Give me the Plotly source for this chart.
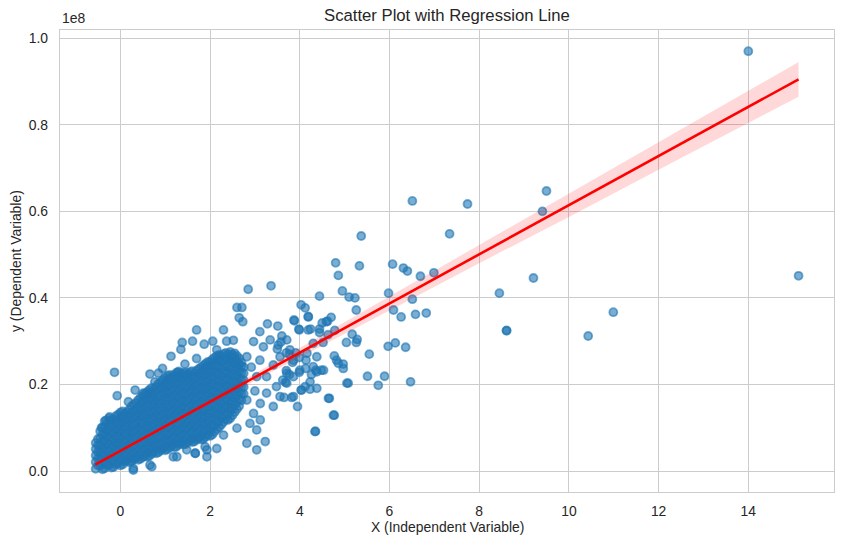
import plotly.graph_objects as go

# ---------------- data (y values in units of 1e8) ----------------
# dense core of the cloud, read column by column: (x, [y values])
core_columns = [
    (-0.55, [0.005, 0.021, 0.036, 0.051, 0.065]),
    (-0.45, [0.012, 0.028, 0.044, 0.060, 0.076, 0.092]),
    (-0.35, [0.006, 0.022, 0.038, 0.054, 0.070, 0.086, 0.101, 0.115]),
    (-0.25, [0.014, 0.030, 0.046, 0.062, 0.078, 0.094, 0.109, 0.122]),
    (-0.15, [0.009, 0.025, 0.041, 0.057, 0.073, 0.089, 0.105, 0.120]),
    (-0.05, [0.018, 0.034, 0.050, 0.066, 0.082, 0.098, 0.114, 0.130]),
    (0.05, [0.015, 0.031, 0.047, 0.063, 0.079, 0.095, 0.111, 0.126, 0.138]),
    (0.15, [0.024, 0.040, 0.056, 0.072, 0.088, 0.104, 0.120, 0.136]),
    (0.25, [0.022, 0.038, 0.054, 0.070, 0.086, 0.102, 0.118, 0.134, 0.150]),
    (0.35, [0.030, 0.046, 0.062, 0.078, 0.094, 0.110, 0.126, 0.142, 0.158]),
    (0.45, [0.028, 0.044, 0.060, 0.076, 0.092, 0.108, 0.124, 0.140, 0.156, 0.170]),
    (0.55, [0.036, 0.052, 0.068, 0.084, 0.100, 0.116, 0.132, 0.148, 0.164, 0.179]),
    (0.65, [0.035, 0.051, 0.067, 0.083, 0.099, 0.115, 0.131, 0.147, 0.163, 0.178, 0.188]),
    (0.75, [0.044, 0.060, 0.076, 0.092, 0.108, 0.124, 0.140, 0.156, 0.172, 0.188]),
    (0.85, [0.043, 0.059, 0.075, 0.091, 0.107, 0.123, 0.139, 0.155, 0.171, 0.187, 0.202]),
    (0.95, [0.052, 0.068, 0.084, 0.100, 0.116, 0.132, 0.148, 0.164, 0.180, 0.196, 0.210]),
    (1.05, [0.050, 0.066, 0.082, 0.098, 0.114, 0.130, 0.146, 0.162, 0.178, 0.194, 0.208, 0.220]),
    (1.15, [0.059, 0.075, 0.091, 0.107, 0.123, 0.139, 0.155, 0.171, 0.187, 0.203, 0.218]),
    (1.25, [0.056, 0.072, 0.088, 0.104, 0.120, 0.136, 0.152, 0.168, 0.184, 0.200, 0.214, 0.227]),
    (1.35, [0.065, 0.081, 0.097, 0.113, 0.129, 0.145, 0.161, 0.177, 0.193, 0.209, 0.224]),
    (1.45, [0.062, 0.078, 0.094, 0.110, 0.126, 0.142, 0.158, 0.174, 0.190, 0.206, 0.220, 0.228]),
    (1.55, [0.071, 0.087, 0.103, 0.119, 0.135, 0.151, 0.167, 0.183, 0.199, 0.215, 0.228]),
    (1.65, [0.068, 0.084, 0.100, 0.116, 0.132, 0.148, 0.164, 0.180, 0.196, 0.212, 0.226]),
    (1.75, [0.077, 0.093, 0.109, 0.125, 0.141, 0.157, 0.173, 0.189, 0.205, 0.221, 0.236]),
    (1.85, [0.074, 0.090, 0.106, 0.122, 0.138, 0.154, 0.170, 0.186, 0.202, 0.218, 0.232, 0.244]),
    (1.95, [0.084, 0.100, 0.116, 0.132, 0.148, 0.164, 0.180, 0.196, 0.212, 0.228, 0.242, 0.252]),
    (2.05, [0.084, 0.100, 0.116, 0.132, 0.148, 0.164, 0.180, 0.196, 0.212, 0.228, 0.244, 0.258]),
    (2.15, [0.097, 0.113, 0.129, 0.145, 0.161, 0.177, 0.193, 0.209, 0.225, 0.241, 0.256, 0.266]),
    (2.25, [0.107, 0.123, 0.139, 0.155, 0.171, 0.187, 0.203, 0.219, 0.235, 0.251, 0.265]),
    (2.35, [0.120, 0.136, 0.152, 0.168, 0.184, 0.200, 0.216, 0.232, 0.248, 0.262, 0.273]),
    (2.45, [0.122, 0.138, 0.154, 0.170, 0.186, 0.202, 0.218, 0.234, 0.250, 0.264, 0.275]),
    (2.55, [0.136, 0.152, 0.168, 0.184, 0.200, 0.216, 0.232, 0.248, 0.262, 0.272]),
    (2.65, [0.150, 0.166, 0.182, 0.198, 0.214, 0.230, 0.246, 0.260]),
    (2.75, [0.178, 0.194, 0.210, 0.226, 0.240]),
    # second pass of readings between the columns above
    (-0.50, [0.013, 0.029, 0.044, 0.059, 0.074]),
    (-0.40, [0.004, 0.020, 0.036, 0.052, 0.068, 0.084, 0.100]),
    (-0.30, [0.014, 0.030, 0.046, 0.062, 0.078, 0.094, 0.110]),
    (-0.20, [0.008, 0.022, 0.038, 0.054, 0.070, 0.086, 0.102, 0.117]),
    (-0.10, [0.016, 0.032, 0.048, 0.064, 0.080, 0.096, 0.112, 0.127]),
    (0.00, [0.013, 0.026, 0.042, 0.058, 0.074, 0.090, 0.106, 0.122, 0.135]),
    (0.10, [0.022, 0.038, 0.054, 0.070, 0.086, 0.102, 0.118, 0.133]),
    (0.20, [0.020, 0.030, 0.046, 0.062, 0.078, 0.094, 0.110, 0.126, 0.142]),
    (0.30, [0.027, 0.043, 0.059, 0.075, 0.091, 0.107, 0.123, 0.139, 0.154]),
    (0.40, [0.026, 0.036, 0.052, 0.068, 0.084, 0.100, 0.116, 0.132, 0.148, 0.164]),
    (0.50, [0.032, 0.048, 0.064, 0.080, 0.096, 0.112, 0.128, 0.144, 0.160, 0.174]),
    (0.60, [0.033, 0.043, 0.059, 0.075, 0.091, 0.107, 0.123, 0.139, 0.155, 0.171, 0.183]),
    (0.70, [0.040, 0.056, 0.072, 0.088, 0.104, 0.120, 0.136, 0.152, 0.168, 0.182, 0.192]),
    (0.80, [0.041, 0.051, 0.067, 0.083, 0.099, 0.115, 0.131, 0.147, 0.163, 0.179, 0.195]),
    (0.90, [0.048, 0.064, 0.080, 0.096, 0.112, 0.128, 0.144, 0.160, 0.176, 0.192, 0.206]),
    (1.00, [0.048, 0.058, 0.074, 0.090, 0.106, 0.122, 0.138, 0.154, 0.170, 0.186, 0.202, 0.215]),
    (1.10, [0.055, 0.071, 0.087, 0.103, 0.119, 0.135, 0.151, 0.167, 0.183, 0.199, 0.213, 0.222]),
    (1.20, [0.055, 0.064, 0.080, 0.096, 0.112, 0.128, 0.144, 0.160, 0.176, 0.192, 0.208, 0.222]),
    (1.30, [0.061, 0.077, 0.093, 0.109, 0.125, 0.141, 0.157, 0.173, 0.189, 0.205, 0.219, 0.228]),
    (1.40, [0.061, 0.070, 0.086, 0.102, 0.118, 0.134, 0.150, 0.166, 0.182, 0.198, 0.214, 0.226]),
    (1.50, [0.067, 0.083, 0.099, 0.115, 0.131, 0.147, 0.163, 0.179, 0.195, 0.211, 0.224]),
    (1.60, [0.067, 0.076, 0.092, 0.108, 0.124, 0.140, 0.156, 0.172, 0.188, 0.204, 0.220, 0.231]),
    (1.70, [0.073, 0.089, 0.105, 0.121, 0.137, 0.153, 0.169, 0.185, 0.201, 0.217, 0.232]),
    (1.80, [0.073, 0.082, 0.098, 0.114, 0.130, 0.146, 0.162, 0.178, 0.194, 0.210, 0.226, 0.240]),
    (1.90, [0.079, 0.095, 0.111, 0.127, 0.143, 0.159, 0.175, 0.191, 0.207, 0.223, 0.238, 0.248]),
    (2.00, [0.081, 0.092, 0.108, 0.124, 0.140, 0.156, 0.172, 0.188, 0.204, 0.220, 0.236, 0.252]),
    (2.10, [0.091, 0.105, 0.121, 0.137, 0.153, 0.169, 0.185, 0.201, 0.217, 0.233, 0.249, 0.262]),
    (2.20, [0.101, 0.115, 0.131, 0.147, 0.163, 0.179, 0.195, 0.211, 0.227, 0.243, 0.258, 0.268]),
    (2.30, [0.113, 0.129, 0.145, 0.161, 0.177, 0.193, 0.209, 0.225, 0.241, 0.257, 0.270]),
    (2.40, [0.118, 0.130, 0.146, 0.162, 0.178, 0.194, 0.210, 0.226, 0.242, 0.258, 0.270]),
    (2.50, [0.129, 0.145, 0.161, 0.177, 0.193, 0.209, 0.225, 0.241, 0.257, 0.270]),
    (2.60, [0.143, 0.159, 0.175, 0.191, 0.207, 0.223, 0.239, 0.255, 0.266]),
    (2.70, [0.163, 0.179, 0.195, 0.211, 0.227, 0.243, 0.251]),
]

# scattered points around the core
halo_pts = [
    (-0.13, 0.228), (-0.07, 0.174), (0.18, 0.160), (0.33, 0.187), (0.51, 0.180),
    (0.66, 0.224), (0.85, 0.226), (0.77, 0.206), (0.94, 0.237), (1.13, 0.265),
    (1.35, 0.281), (1.61, 0.300), (2.06, 0.300), (-0.32, 0.117), (-0.24, 0.125),
    (-0.42, 0.100), (1.89, 0.056), (1.67, 0.041), (1.93, 0.033), (0.66, 0.014),
    (0.29, 0.006), (1.26, 0.033), (1.48, 0.049), (1.38, 0.297), (1.70, 0.326),
    (1.87, 0.293), (1.44, 0.247), (1.30, 0.230), (1.70, 0.260), (2.15, 0.280),
    (2.30, 0.326), (2.37, 0.300), (2.52, 0.302), (2.60, 0.378), (2.71, 0.378),
    (2.65, 0.354), (2.73, 0.345), (2.85, 0.420), (3.36, 0.428), (2.97, 0.299),
    (3.11, 0.322), (3.28, 0.340), (3.51, 0.335), (3.34, 0.303), (3.19, 0.287),
    (3.52, 0.291), (3.71, 0.303), (3.78, 0.280), (3.88, 0.347), (3.99, 0.326),
    (4.19, 0.326), (4.19, 0.357), (4.44, 0.328), (4.59, 0.345), (4.70, 0.355),
    (3.11, 0.256), (3.41, 0.245), (3.26, 0.218), (3.71, 0.226), (4.00, 0.233),
    (4.30, 0.241), (4.53, 0.233), (4.97, 0.237), (4.82, 0.256), (4.38, 0.264),
    (4.16, 0.272), (3.86, 0.256), (3.56, 0.264), (2.82, 0.264), (3.04, 0.218),
    (3.26, 0.180), (3.56, 0.172), (3.86, 0.172), (3.41, 0.149), (3.95, 0.149),
    (4.34, 0.091), (4.75, 0.129), (5.05, 0.203), (4.64, 0.168), (4.04, 0.187),
    (4.23, 0.206), (4.38, 0.191), (2.82, 0.164), (2.97, 0.133), (3.12, 0.118),
    (2.89, 0.110), (3.04, 0.095), (2.82, 0.064), (3.23, 0.068), (3.04, 0.049),
    (2.60, 0.099), (2.30, 0.083), (2.15, 0.052), (1.93, 0.049), (1.67, 0.041),
    (1.18, 0.033), (0.70, 0.010), (0.29, 0.002), (3.48, 0.195), (3.71, 0.203),
    (3.86, 0.218), (3.12, 0.156), (2.92, 0.240), (3.00, 0.185),
    (4.80, 0.481), (5.33, 0.474), (4.86, 0.452), (4.95, 0.416), (5.10, 0.402),
    (5.23, 0.400), (4.44, 0.404), (5.26, 0.372), (4.03, 0.384), (4.12, 0.377),
    (3.87, 0.349), (4.19, 0.356), (3.98, 0.328), (4.24, 0.328), (4.44, 0.320),
    (4.50, 0.342), (4.62, 0.346), (4.78, 0.325), (4.63, 0.315), (4.52, 0.297),
    (3.60, 0.312), (3.58, 0.298), (4.30, 0.295), (3.70, 0.273), (3.77, 0.270),
    (3.50, 0.282), (3.91, 0.273), (3.99, 0.262), (4.14, 0.256), (3.84, 0.251),
    (3.70, 0.232), (3.77, 0.223), (3.99, 0.228), (4.13, 0.237), (4.36, 0.233),
    (4.48, 0.233), (4.26, 0.223), (4.38, 0.229), (3.68, 0.205), (4.12, 0.195),
    (4.23, 0.189), (4.03, 0.187), (3.82, 0.170), (3.65, 0.170), (3.62, 0.210),
    (4.66, 0.168), (4.77, 0.129), (4.35, 0.092),
]

# sparse points further right
outlier_pts = [
    (6.51, 0.624), (7.74, 0.617), (9.50, 0.647), (9.41, 0.600), (7.34, 0.548),
    (5.37, 0.543), (6.07, 0.478), (6.31, 0.469), (6.40, 0.462), (6.69, 0.450),
    (6.99, 0.458), (9.21, 0.446), (8.45, 0.411), (5.98, 0.411), (6.51, 0.397),
    (6.09, 0.372), (6.26, 0.356), (6.58, 0.362), (6.82, 0.365), (8.61, 0.324),
    (8.61, 0.325), (5.97, 0.288), (6.13, 0.296), (6.36, 0.286), (5.55, 0.270),
    (5.04, 0.297), (5.26, 0.297), (5.28, 0.304), (5.17, 0.316), (4.77, 0.266),
    (4.86, 0.249), (4.97, 0.247), (5.51, 0.219), (5.89, 0.219), (5.75, 0.198),
    (5.08, 0.203), (6.47, 0.206), (10.43, 0.312), (10.99, 0.367), (14.00, 0.970),
    (15.12, 0.451),
]

# fitted regression line and its confidence half-width
reg_x = [-0.56, 0.0, 2.0, 4.0, 6.0, 8.0, 10.0, 12.0, 14.0, 15.12]
reg_y = [0.0145, 0.0463, 0.160, 0.274, 0.387, 0.501, 0.614, 0.728, 0.842, 0.905]
ci_half = [0.003, 0.002, 0.006, 0.011, 0.016, 0.021, 0.027, 0.032, 0.037, 0.040]

x_ticks = [0, 2, 4, 6, 8, 10, 12, 14]
y_ticks = [0.0, 0.2, 0.4, 0.6, 0.8, 1.0]
y_tick_text = ["0.0", "0.2", "0.4", "0.6", "0.8", "1.0"]

# ---------------- build figure ----------------
xs, ys = [], []
for cx, col in core_columns:
    for cy in col:
        xs.append(cx)
        ys.append(cy)
for px, py in halo_pts + outlier_pts:
    xs.append(px)
    ys.append(py)

band_hi = [m + h for m, h in zip(reg_y, ci_half)]
band_lo = [m - h for m, h in zip(reg_y, ci_half)]

FONT = "Liberation Sans, Arial, sans-serif"
TXT = "#262626"
GRID = "#cccccc"

fig = go.Figure()
fig.add_trace(go.Scatter(
    x=xs, y=ys, mode="markers",
    marker=dict(size=8, color="rgba(31,119,180,0.6)",
                line=dict(width=1.8, color="rgba(31,119,180,0.6)")),
    hoverinfo="skip", showlegend=False,
))
fig.add_trace(go.Scatter(
    x=reg_x + reg_x[::-1], y=band_hi + band_lo[::-1],
    fill="toself", fillcolor="rgba(255,0,0,0.15)",
    line=dict(width=0), mode="lines", hoverinfo="skip", showlegend=False,
))
fig.add_trace(go.Scatter(
    x=reg_x, y=reg_y, mode="lines",
    line=dict(color="red", width=2.6), hoverinfo="skip", showlegend=False,
))

fig.update_layout(
    width=843, height=545,
    margin=dict(l=60, r=9, t=30, b=53, autoexpand=False),
    paper_bgcolor="white", plot_bgcolor="white",
    font=dict(family=FONT, size=14, color=TXT),
    xaxis=dict(range=[-1.345, 15.91], tickvals=x_ticks, showgrid=True,
               gridcolor=GRID, gridwidth=1, zeroline=False, showline=True,
               linecolor=GRID, linewidth=1.25, mirror=True, ticks="",
               automargin=False, ticklabelstandoff=6,
               tickfont=dict(size=13.9, color=TXT, family=FONT)),
    yaxis=dict(range=[-0.0485, 1.019], tickvals=y_ticks, ticktext=y_tick_text,
               showgrid=True, gridcolor=GRID, gridwidth=1, zeroline=False,
               showline=True, linecolor=GRID, linewidth=1.25, mirror=True,
               ticks="", automargin=False, ticklabelstandoff=8,
               tickfont=dict(size=13.9, color=TXT, family=FONT)),
    annotations=[
        dict(text="Scatter Plot with Regression Line", xref="paper", yref="paper",
             x=0.5, y=1.0, xanchor="center", yanchor="bottom", yshift=3,
             showarrow=False, font=dict(size=16.7, color=TXT, family=FONT)),
        dict(text="X (Independent Variable)", xref="paper", yref="paper",
             x=0.5, y=-0.0758, xanchor="center", yanchor="middle",
             showarrow=False, font=dict(size=13.9, color=TXT, family=FONT)),
        dict(text="y (Dependent Variable)", xref="paper", yref="paper",
             x=-0.0568, y=0.5, xanchor="center", yanchor="middle", textangle=-90,
             showarrow=False, font=dict(size=13.9, color=TXT, family=FONT)),
        dict(text="1e8", xref="paper", yref="paper", x=0, y=1.0,
             xanchor="left", yanchor="bottom", yshift=2, showarrow=False,
             font=dict(size=13.9, color=TXT, family=FONT)),
    ],
)

# remove the page's default 8px body margin so the figure sits at the corner
fig.write_html("out.html", config={"displayModeBar": False},
               post_script="document.body.style.margin='0px';")
